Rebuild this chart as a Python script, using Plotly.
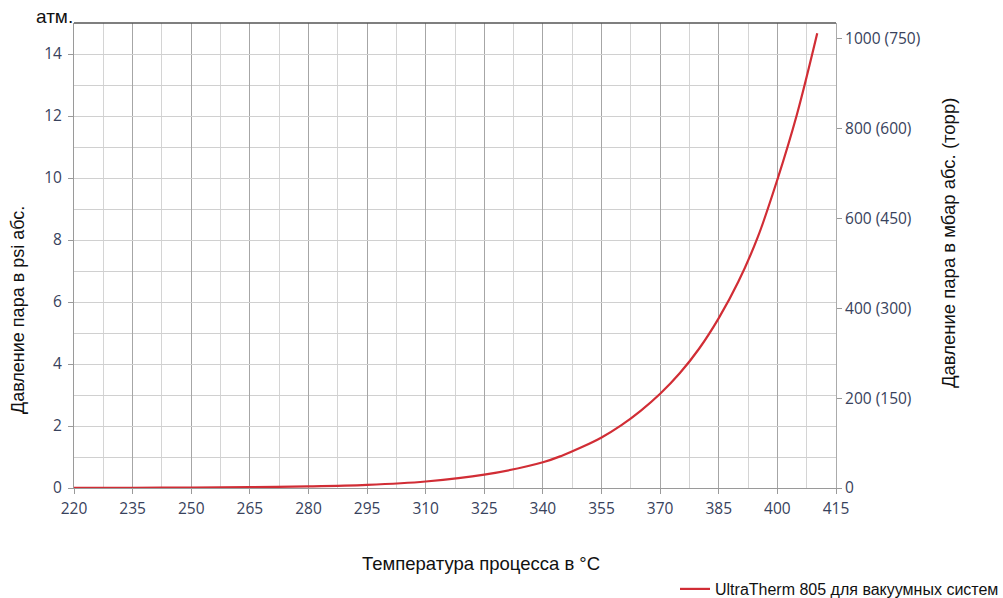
import plotly.graph_objects as go

# Data (temperature °C, vapour pressure psi abs.)
temp_c = [220, 235, 250, 265, 280, 295, 310, 325, 340, 345, 350, 355, 360, 365,
          370, 375, 380, 385, 390, 395, 400, 405, 410.2]
pressure_psi = [0.004, 0.008, 0.014, 0.026, 0.05, 0.10, 0.21, 0.43, 0.83, 1.05,
                1.32, 1.63, 2.02, 2.49, 3.04, 3.70, 4.50, 5.48, 6.65, 8.10,
                9.95, 12.05, 14.67]

x_ticks = [220, 235, 250, 265, 280, 295, 310, 325, 340, 355, 370, 385, 400, 415]
y_ticks = [0, 2, 4, 6, 8, 10, 12, 14]
right_tickvals = [0, 200, 400, 600, 800, 1000]
right_ticktext = ["0", "200 (150)", "400 (300)", "600 (450)", "800 (600)", "1000 (750)"]

PSI_TO_MBAR = 68.9476
series_name = "UltraTherm 805 для вакуумных систем"

tick_font = dict(family="Open Sans", size=15.5, color="#38425c")
title_font = dict(family="Liberation Sans, Arial", size=18.5, color="#111111")

W, H = 1003, 598
L, T, R, B = 74, 23, 1003 - 836, 598 - 488
PW, PH = W - L - R, H - T - B

fig = go.Figure()
fig.add_trace(go.Scatter(
    x=temp_c, y=pressure_psi, mode="lines", name=series_name,
    line=dict(color="#d12d35", width=2.2, shape="spline", smoothing=1.0),
))
# invisible trace to carry the secondary axis
fig.add_trace(go.Scatter(
    x=[temp_c[0]], y=[0], yaxis="y2", mode="lines", showlegend=False,
    hoverinfo="skip", line=dict(color="rgba(0,0,0,0)"),
))

fig.update_layout(
    width=W, height=H,
    margin=dict(l=L, r=R, t=T, b=B, autoexpand=False),
    paper_bgcolor="white", plot_bgcolor="white",
    xaxis=dict(
        range=[220, 415], tickvals=x_ticks, showgrid=True,
        gridcolor="#a6a6a6", gridwidth=1,
        minor=dict(dtick=7.5, tick0=220, showgrid=True, gridcolor="#d4d4d4", gridwidth=1),
        showline=True, linecolor="#9a9a9a", linewidth=1,
        ticks="outside", ticklen=5, tickcolor="#9a9a9a",
        tickfont=tick_font, zeroline=False, ticklabelstandoff=1,
    ),
    yaxis=dict(
        range=[0, 15], tickvals=y_ticks, showgrid=True,
        gridcolor="#d0d0d0", gridwidth=1,
        minor=dict(dtick=1, tick0=0, showgrid=True, gridcolor="#d0d0d0", gridwidth=1),
        showline=True, linecolor="#9a9a9a", linewidth=1,
        ticks="outside", ticklen=5, tickcolor="#9a9a9a",
        tickfont=tick_font, zeroline=False, ticklabelstandoff=3,
    ),
    yaxis2=dict(
        range=[0, 15 * PSI_TO_MBAR], overlaying="y", side="right",
        tickvals=right_tickvals, ticktext=right_ticktext, showgrid=False,
        showline=True, linecolor="#ababab", linewidth=1,
        ticks="outside", ticklen=5, tickcolor="#9a9a9a",
        tickfont=tick_font, zeroline=False, ticklabelstandoff=0,
    ),
    showlegend=True,
    legend=dict(
        x=(1004 - 74) / PW, xanchor="right", y=-(589 - 488) / PH, yanchor="middle",
        font=dict(family="Liberation Sans, Arial", size=16, color="#111111"),
        bgcolor="rgba(0,0,0,0)", borderwidth=0,
    ),
    shapes=[dict(type="line", xref="paper", yref="paper", x0=0, x1=1, y0=1, y1=1,
                 line=dict(color="#555555", width=1.5))],
    annotations=[
        dict(text="атм.", xref="paper", yref="paper", x=0, y=1, xanchor="right",
             yanchor="bottom", yshift=-5, showarrow=False, borderpad=0,
             font=dict(family="Liberation Sans, Arial", size=19, color="#111111")),
        dict(text="Давление пара в psi абс.", xref="paper", yref="paper",
             x=(18 - 74) / PW, xanchor="center", y=(488 - 310) / PH,
             yanchor="middle", textangle=-90, showarrow=False,
             font=dict(family="Liberation Sans, Arial", size=18, color="#111111")),
        dict(text="Давление пара в мбар абс. (торр)", xref="paper", yref="paper",
             x=(948 - 74) / PW, xanchor="center", y=(488 - 243) / PH,
             yanchor="middle", textangle=-90, showarrow=False, font=title_font),
        dict(text="Температура процесса в °C", xref="paper", yref="paper",
             x=(481 - 74) / PW, xanchor="center", y=-(563 - 488) / PH,
             yanchor="middle", showarrow=False, font=title_font),
    ],
)

# remove the browser's default 8px body margin so the figure fills the window
fig.write_html("out.html", config={"displayModeBar": False},
               post_script="document.body.style.margin='0';")
